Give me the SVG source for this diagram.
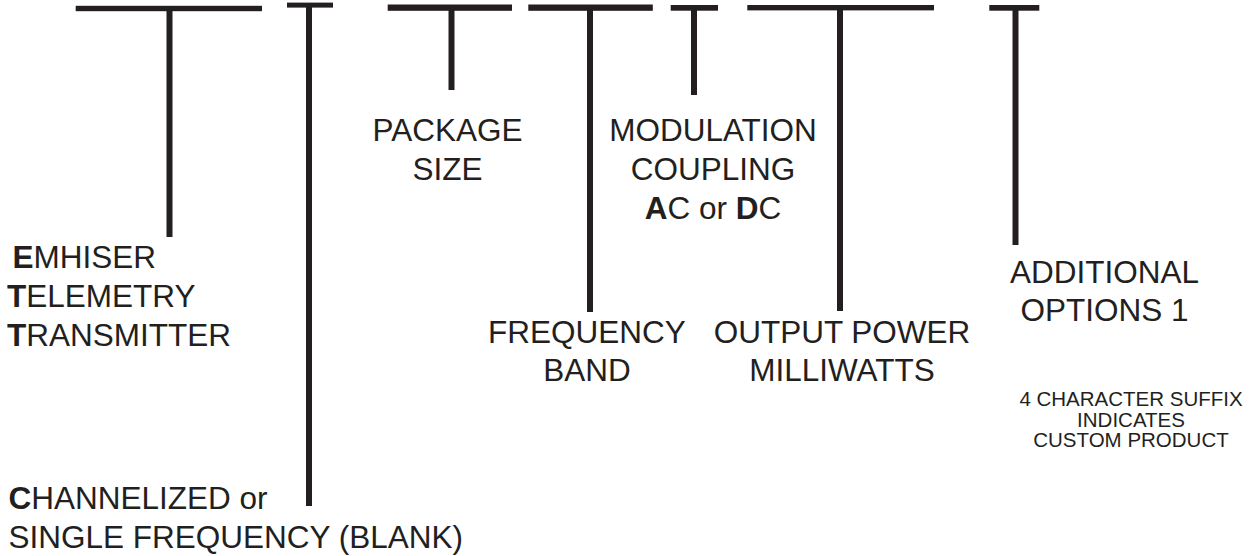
<svg xmlns="http://www.w3.org/2000/svg" width="1255" height="556" viewBox="0 0 1255 556">
<style>
.bar{fill:#231f20}
.stem{stroke:#231f20;stroke-width:6;fill:none}
text{font-family:"Liberation Sans",Arial,sans-serif;font-size:31.5px;fill:#231f20}
.c{text-anchor:middle}
.sm{font-size:20.5px}
.b{font-weight:bold}
</style>
<rect width="1255" height="556" fill="#ffffff"/>
<g id="connectors">
<line class="stem" x1="169.5" y1="8" x2="169.5" y2="237"/>
<line class="stem" x1="309" y1="5" x2="309" y2="506"/>
<line class="stem" x1="451.5" y1="8" x2="451.5" y2="90"/>
<line class="stem" x1="590" y1="8" x2="590" y2="312"/>
<line class="stem" x1="694" y1="8" x2="694" y2="95"/>
<line class="stem" x1="840" y1="8" x2="840" y2="311"/>
<line class="stem" x1="1015.5" y1="8" x2="1015.5" y2="245"/>
</g>
<g id="node-ett">
<rect class="bar" x="75.7" y="5.8" width="186.3" height="5.4"/>
<text x="12.5" y="268"><tspan class="b">E</tspan>MHISER</text>
<text x="7" y="307"><tspan class="b">T</tspan>ELEMETRY</text>
<text x="7" y="346"><tspan class="b">T</tspan>RANSMITTER</text>
</g>
<g id="node-channel">
<rect class="bar" x="287" y="2.6" width="46" height="5"/>
<text x="8.5" y="509"><tspan class="b">C</tspan>HANNELIZED or</text>
<text x="8.5" y="548">SINGLE FREQUENCY (BLANK)</text>
</g>
<g id="node-package">
<rect class="bar" x="387.7" y="4.5" width="124.3" height="6.3"/>
<text class="c" x="447.5" y="141">PACKAGE</text>
<text class="c" x="447.5" y="180">SIZE</text>
</g>
<g id="node-frequency">
<rect class="bar" x="528.3" y="4.5" width="124.5" height="6.3"/>
<text class="c" x="587" y="343">FREQUENCY</text>
<text class="c" x="587" y="381">BAND</text>
</g>
<g id="node-modulation">
<rect class="bar" x="670.7" y="5" width="47.3" height="5.7"/>
<text class="c" x="713" y="141">MODULATION</text>
<text class="c" x="713" y="180">COUPLING</text>
<text class="c" x="713" y="219"><tspan class="b">A</tspan>C or <tspan class="b">D</tspan>C</text>
</g>
<g id="node-power">
<rect class="bar" x="747.3" y="5" width="186.7" height="5.4"/>
<text class="c" x="842" y="343">OUTPUT POWER</text>
<text class="c" x="842" y="381">MILLIWATTS</text>
</g>
<g id="node-options">
<rect class="bar" x="989.3" y="5" width="50" height="5.7"/>
<text class="c" x="1104.5" y="283">ADDITIONAL</text>
<text class="c" x="1104.5" y="321">OPTIONS 1</text>
<text class="c sm" x="1131" y="406">4 CHARACTER SUFFIX</text>
<text class="c sm" x="1131" y="426.5">INDICATES</text>
<text class="c sm" x="1131" y="447">CUSTOM PRODUCT</text>
</g>
</svg>
